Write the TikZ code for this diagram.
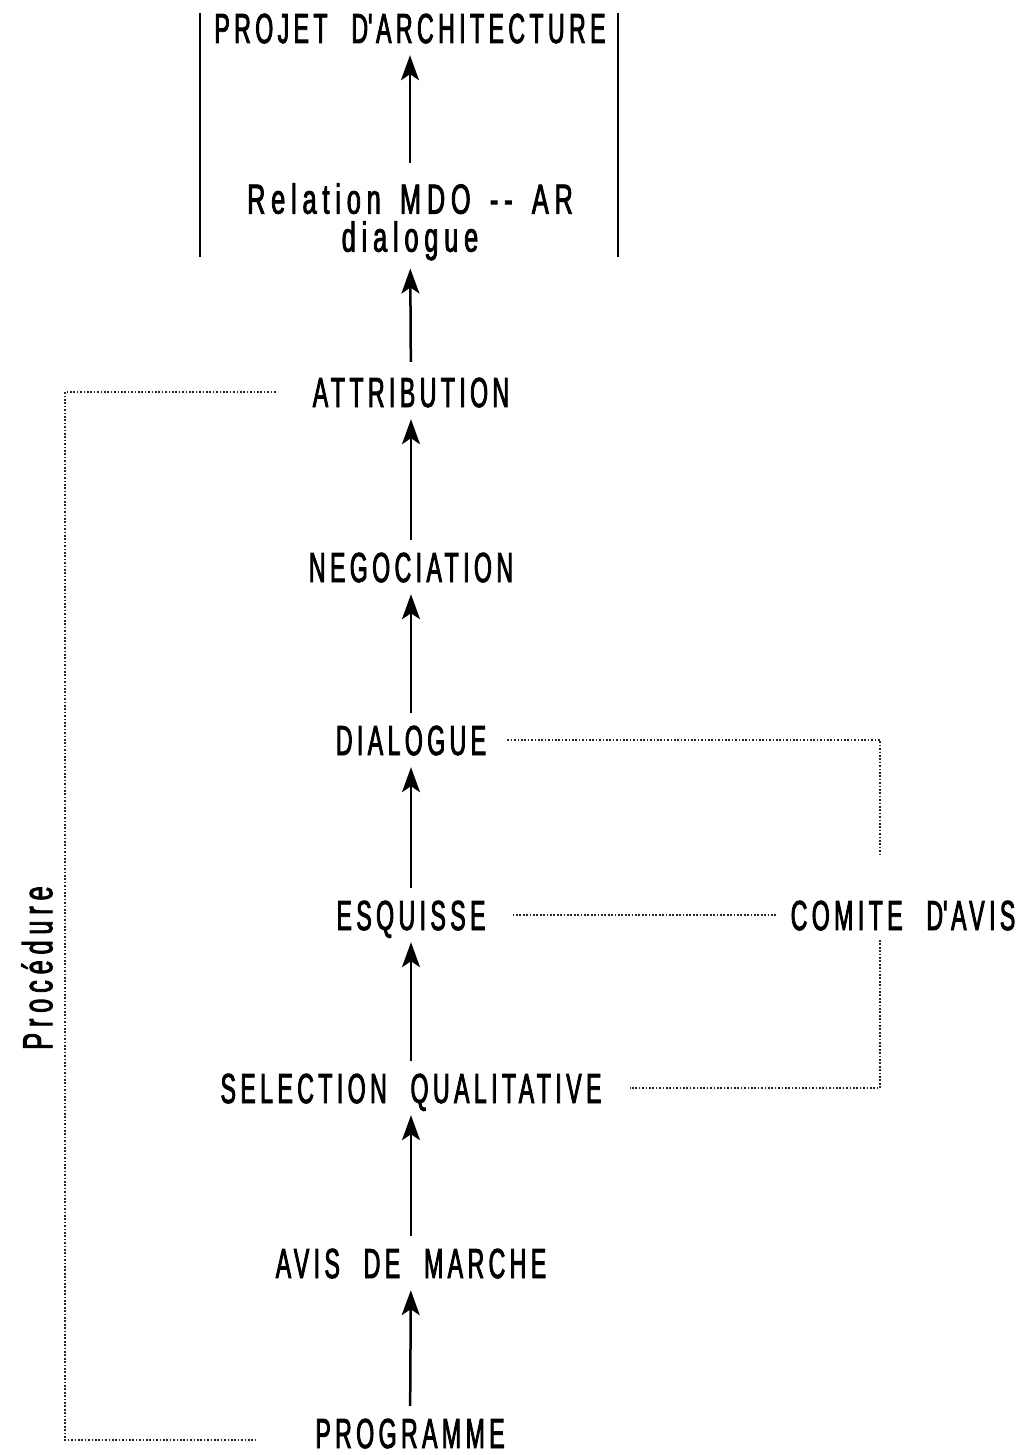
\documentclass[tikz,border=0pt]{standalone}
\usepackage{fontspec}
\usetikzlibrary{arrows.meta}
\newfontfamily\lblfont[FakeStretch=0.55, LetterSpace=10.5, WordSpace=2.2, FakeBold=2]{Liberation Sans}
\newfontfamily\lcfont[FakeStretch=0.6, LetterSpace=14, WordSpace=1.5, FakeBold=2]{Liberation Sans}
\begin{document}
\begin{tikzpicture}[x=1pt,y=-1pt,
  lbl/.style={font=\fontsize{42}{38}\selectfont\lblfont, inner sep=0pt, text height=30pt, text depth=0pt},
  lc/.style={font=\fontsize{42}{38}\selectfont\lcfont, inner sep=0pt},
  arr/.style={-{Stealth[length=25pt,width=18pt,inset=6pt]}, line width=2.5pt, shorten <=12pt, shorten >=12pt},
  dot/.style={line width=1.2pt, black!85, dash pattern=on 1.7pt off 1.7pt}]
\path[use as bounding box] (0,0) rectangle (1027,1455);
% nodes
\node[lbl] (proj) at (410,28) {PROJET D\textquotesingle ARCHITECTURE};
\node[lc, align=center, anchor=north] (rel) at (410,183) {Relation MDO -{}- AR\\dialogue};
\node[lbl] (attr) at (411,392) {ATTRIBUTION};
\node[lbl] (nego) at (411,567) {NEGOCIATION};
\node[lbl] (dial) at (411,740) {DIALOGUE};
\node[lbl] (esq) at (411,915) {ESQUISSE};
\node[lbl] (sel) at (411,1088) {SELECTION QUALITATIVE};
\node[lbl] (avis) at (411,1263) {AVIS DE MARCHE};
\node[lbl] (prog) at (410,1433) {PROGRAMME};
\node[lbl] (com) at (903,915) {COMITE D\textquotesingle AVIS};
\node[lc, rotate=90] (proc) at (37,968) {Procédure};
% bracket bars
\coordinate (bl1) at (200,13);
\coordinate (bl2) at (200,257);
\coordinate (br1) at (618,13);
\coordinate (br2) at (618,257);
\draw[line width=2pt] (bl1) -- (bl2);
\draw[line width=2pt] (br1) -- (br2);
% arrows
\draw[arr] (prog) -- (avis);
\draw[arr] (avis) -- (sel);
\draw[arr] (sel) -- (esq);
\draw[arr] (esq) -- (dial);
\draw[arr] (dial) -- (nego);
\draw[arr] (nego) -- (attr);
\draw[arr, shorten <=15pt, shorten >=8pt] (attr) -- (rel);
\draw[arr, shorten <=20pt] (rel) -- (proj);
% dotted connectors
\coordinate (pl) at (65,1440);
\coordinate (pe) at (255,1440);
\coordinate (c1) at (880,855);
\coordinate (c2) at (880,940);
\draw[dot] ([xshift=-37pt]attr.west) -| (pl) -- (pe);
\draw[dot] ([xshift=21pt]dial.east) -| (c1);
\draw[dot] ([xshift=27pt]esq.east) -- ([xshift=-15pt]com.west);
\draw[dot] (c2) |- ([xshift=28pt]sel.east);
\end{tikzpicture}
\end{document}
